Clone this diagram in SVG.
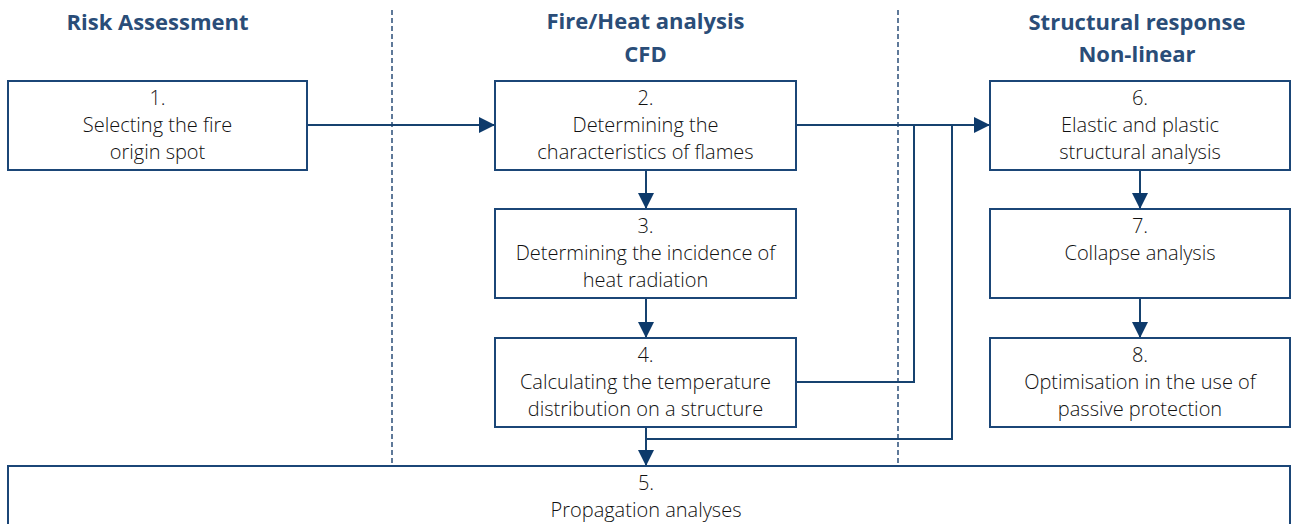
<svg xmlns="http://www.w3.org/2000/svg" width="1292" height="524" viewBox="0 0 1292 524">
<defs>
<style>
.box{fill:#fff;stroke:#1b4677;stroke-width:2}
.t{font-family:"Open Sans","Noto Sans","Liberation Sans",sans-serif;font-size:20px;fill:#111;text-anchor:middle;font-weight:300}
.h{font-family:"Open Sans","Noto Sans","Liberation Sans",sans-serif;font-size:22px;font-weight:700;fill:#2a4d78;text-anchor:middle}
.c{fill:none;stroke:#16426f;stroke-width:2}
.d{fill:none;stroke:#2a4d78;stroke-width:1.5;stroke-dasharray:5 3}
</style>
<marker id="a" viewBox="0 0 16 16" refX="16" refY="8" markerWidth="16" markerHeight="16" markerUnits="userSpaceOnUse" orient="auto">
<path d="M0,0 L16,8 L0,16 Z" fill="#0d3a6b"/>
</marker>
</defs>
<rect width="1292" height="524" fill="#fff"/>
<g id="separators">
<line class="d" x1="392" y1="10" x2="392" y2="468"/>
<line class="d" x1="898" y1="10" x2="898" y2="468"/>
</g>
<g id="headers">
<text class="h" x="157.5" y="30">Risk Assessment</text>
<text class="h" x="645.5" y="29">Fire/Heat analysis</text>
<text class="h" x="645.5" y="62">CFD</text>
<text class="h" x="1137" y="30">Structural response</text>
<text class="h" x="1137" y="62">Non-linear</text>
</g>
<g id="connectors">
<path class="c" d="M307,125 H495" marker-end="url(#a)"/>
<path class="c" d="M796,125 H990" marker-end="url(#a)"/>
<path class="c" d="M796,382 H914 V125"/>
<path class="c" d="M646,439 H952 V125"/>
<path class="c" d="M646,170 V209" marker-end="url(#a)"/>
<path class="c" d="M646,298 V338" marker-end="url(#a)"/>
<path class="c" d="M646,427 V466" marker-end="url(#a)"/>
<path class="c" d="M1140,170 V209" marker-end="url(#a)"/>
<path class="c" d="M1140,298 V338" marker-end="url(#a)"/>
</g>
<g id="n1">
<rect class="box" x="8" y="81" width="299" height="89"/>
<text class="t" x="157.5" y="105">1.</text>
<text class="t" x="157.5" y="132">Selecting the fire</text>
<text class="t" x="157.5" y="159">origin spot</text>
</g>
<g id="n2">
<rect class="box" x="495" y="81" width="301" height="89"/>
<text class="t" x="645.5" y="105">2.</text>
<text class="t" x="645.5" y="132">Determining the</text>
<text class="t" x="645.5" y="159">characteristics of flames</text>
</g>
<g id="n3">
<rect class="box" x="495" y="209" width="301" height="89"/>
<text class="t" x="645.5" y="233">3.</text>
<text class="t" x="645.5" y="260">Determining the incidence of</text>
<text class="t" x="645.5" y="287">heat radiation</text>
</g>
<g id="n4">
<rect class="box" x="495" y="338" width="301" height="89"/>
<text class="t" x="645.5" y="362">4.</text>
<text class="t" x="645.5" y="389">Calculating the temperature</text>
<text class="t" x="645.5" y="416">distribution on a structure</text>
</g>
<g id="n5">
<rect class="box" x="8" y="466" width="1282" height="70"/>
<text class="t" x="646" y="490">5.</text>
<text class="t" x="646" y="517">Propagation analyses</text>
</g>
<g id="n6">
<rect class="box" x="990" y="81" width="300" height="89"/>
<text class="t" x="1140" y="105">6.</text>
<text class="t" x="1140" y="132">Elastic and plastic</text>
<text class="t" x="1140" y="159">structural analysis</text>
</g>
<g id="n7">
<rect class="box" x="990" y="209" width="300" height="89"/>
<text class="t" x="1140" y="233">7.</text>
<text class="t" x="1140" y="260">Collapse analysis</text>
</g>
<g id="n8">
<rect class="box" x="990" y="338" width="300" height="89"/>
<text class="t" x="1140" y="362">8.</text>
<text class="t" x="1140" y="389">Optimisation in the use of</text>
<text class="t" x="1140" y="416">passive protection</text>
</g>
</svg>
